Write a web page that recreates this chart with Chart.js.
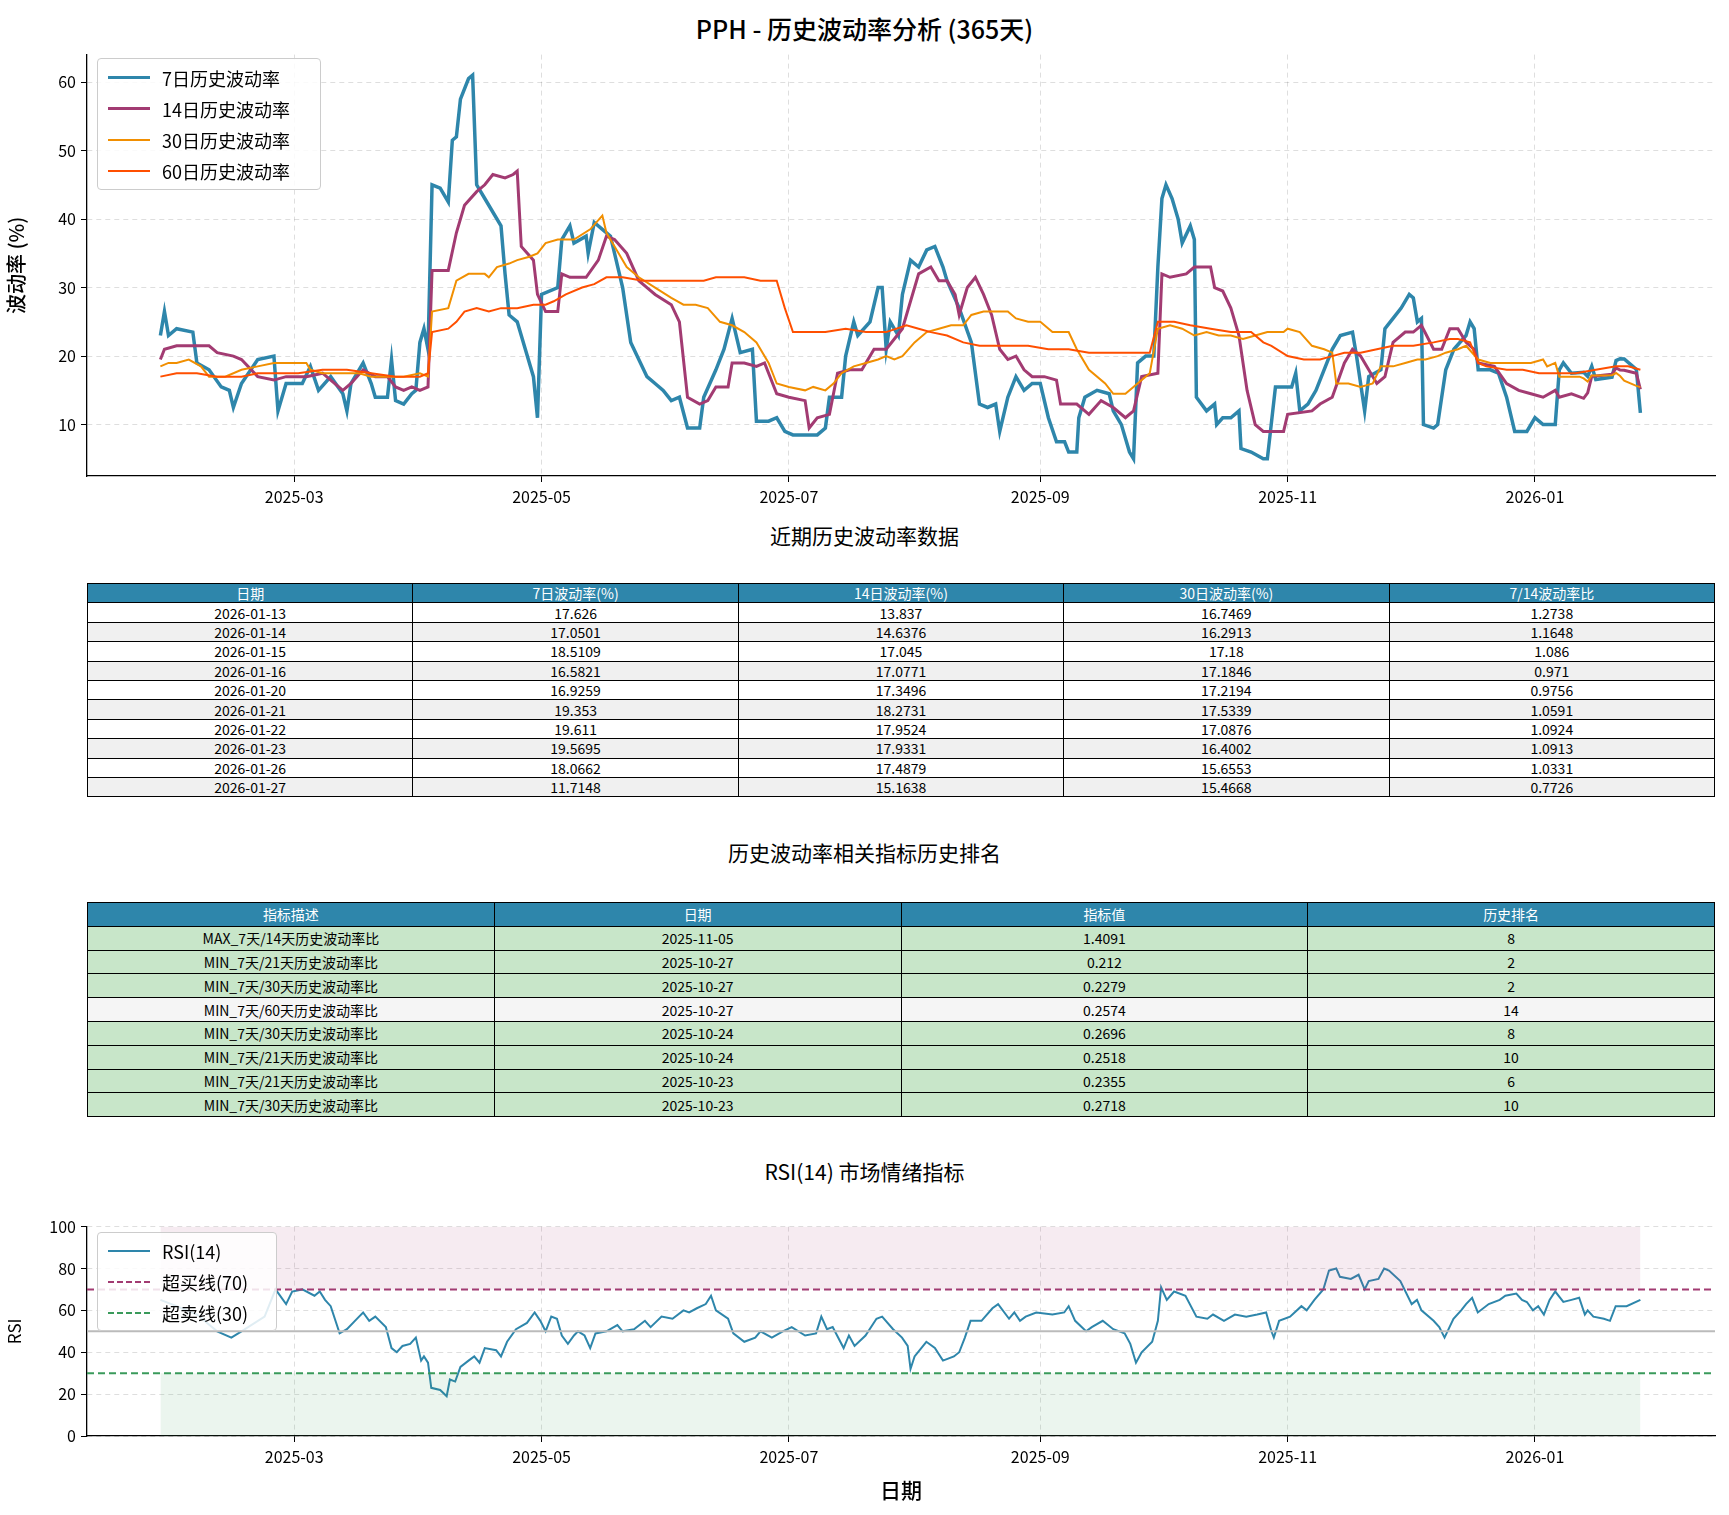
<!DOCTYPE html>
<html><head><meta charset="utf-8">
<script src="https://cdn.jsdelivr.net/npm/chart.js@4"></script>
<style>
body{margin:0;width:1729px;height:1515px;background:#fff;position:relative;font-family:"Noto Sans CJK SC","DejaVu Sans",sans-serif;overflow:hidden}
.t{position:absolute;left:0;width:1729px;text-align:center;color:#000}
canvas{position:absolute;left:0}
table{position:absolute;left:87px;width:1628px;border-collapse:collapse;table-layout:fixed;font-size:14px}
td{border:1px solid #000;text-align:center;padding:0;line-height:1}
.lg{position:absolute;background:rgba(255,255,255,0.85);border:1px solid #ccc;border-radius:4px;font-size:18px}
.lg div{height:31px;display:flex;align-items:center}
.lg span{display:inline-block;width:42px;margin:0 12px 0 10px}
</style></head><body>
<div class="t" style="top:10px;font-size:25px;font-weight:500">PPH - 历史波动率分析 (365天)</div>
<canvas id="c1" width="1729" height="480" style="top:40px;width:1729px;height:480px"></canvas>
<div class="lg" style="left:97px;top:58px;width:222px;padding:3px 0">
 <div><span style="border-top:3.5px solid #2E86AB"></span>7日历史波动率</div>
 <div><span style="border-top:3px solid #A23B72"></span>14日历史波动率</div>
 <div><span style="border-top:2px solid #F18F01"></span>30日历史波动率</div>
 <div><span style="border-top:2px solid #FF4F00"></span>60日历史波动率</div>
</div>
<div class="t" style="top:520px;font-size:21px">近期历史波动率数据</div>
<table id="tb1" style="top:583px"></table>
<div class="t" style="top:837px;font-size:21px">历史波动率相关指标历史排名</div>
<table id="tb2" style="top:902px"></table>
<div class="t" style="top:1156px;font-size:21px">RSI(14) 市场情绪指标</div>
<canvas id="c2" width="1729" height="303" style="top:1212px;width:1729px;height:303px"></canvas>
<div class="lg" style="left:97px;top:1232px;width:178px;padding:2px 0">
 <div><span style="border-top:2px solid #2E86AB"></span>RSI(14)</div>
 <div><span style="border-top:2px dashed #A23B72"></span>超买线(70)</div>
 <div><span style="border-top:2px dashed #3A9A5B"></span>超卖线(30)</div>
</div>
<script>
// x values: days since 2025-01-01
const monthTicks=[59,120,181,243,304,365];
const monthLabels=['2025-03','2025-05','2025-07','2025-09','2025-11','2026-01'];
const vol7=[[26,23],[27,26.5],[28,23],[30,24],[34,23.5],[35,19],[38,18],[41,15.5],[43,15],[44,12.5],[46,16],[50,19.5],[54,20],[55,12],[57,16],[61,16],[63,18.5],[65,15],[68,17],[71,14.5],[72,12],[73,16],[76,19],[78,16],[79,14],[82,14],[83,19.5],[84,13.5],[86,13],[88,14.5],[89,15],[90,22],[91,24],[92,21],[93,45],[95,44.5],[97,42.5],[98,51.5],[99,52],[100,57.5],[102,60.5],[103,61],[104,45],[106,43],[110,39],[111,32],[112,26],[114,25],[116,21],[118,17],[119,11],[120,29],[124,30],[125,37],[127,39],[128,36.5],[131,37.5],[131.5,35],[133,39.5],[135,38.5],[137,37.5],[140,30],[142,22],[146,17],[148,16],[150,15],[152,13.5],[154,14],[156,9.5],[159,9.5],[160,14],[163,18],[165,21],[167,25.5],[169,20.5],[172,21],[173,10.5],[176,10.5],[178,11],[180,9],[182,8.5],[185,8.5],[188,8.5],[190,9.5],[191,14],[194,14],[195,20],[197,25],[198,23],[201,25],[203,30],[204,30],[205,21],[206,25],[208,23],[209,29],[211,34],[213,33],[215,35.5],[217,36],[219,33],[220,31],[223,27],[226,22],[228,13],[230,12.5],[232,13],[233,9],[235,14],[237,17],[239,15],[241,16],[243,16],[245,11],[247,7.5],[249,7.5],[250,6],[252,6],[252.5,11],[254,14],[257,15],[260,14.5],[261,12],[263,10],[265,6],[266,5],[267,19],[269,20],[271,20],[272,33],[273,43],[274,45],[275.5,43],[277,40],[278,36.5],[280,39],[281,37],[281.5,14],[284,12],[286,13],[286.5,10],[288,11],[290,11],[292,12],[292.5,6.5],[295,6],[298,5],[299,5],[301,15.5],[305,15.5],[306,17.5],[307,12],[309,13],[311,15],[315,21],[317,23],[320,23.5],[321,20],[323,12],[324,17],[327,18],[328,24],[330,25.5],[332,27],[334,29],[335,28.5],[336,25],[337,25.5],[337.5,10],[340,9.5],[341,10],[343,18],[345,21],[348,23],[349,25],[350,24],[351,18],[354,18],[356,17.5],[358,14],[360,9],[362,9],[363,9],[365,11],[366,10.5],[367,10],[370,10],[371,18],[372,19],[374,17.5],[377,17.63],[378,17.05],[379,18.51],[380,16.58],[384,16.93],[385,19.35],[386,19.61],[387,19.57],[390,18.07],[391,11.71]];
const vol14=[[26,19.5],[27,21],[30,21.5],[35,21.5],[38,21.5],[40,20.5],[44,20],[46,19.5],[50,17],[54,16.5],[57,17],[62,17],[66,17.5],[68,16.5],[71,15],[73,16],[76,18],[79,17],[82,17],[84,15.5],[86,15],[88,15.5],[90,15],[92,15.5],[93,32.5],[97,32.5],[99,38],[101,42],[104,44],[106,45],[108,46.5],[111,46],[113,46.5],[114,47],[115,36],[118,34],[119,29],[121,26.5],[124,26.5],[125,32],[127,31.5],[131,31.5],[134,34],[136,37.5],[138,37],[141,35],[144,31],[146,30],[148,29],[152,27.5],[154,25],[156,14],[159,13],[161,13.5],[163,15.5],[166,15.5],[167,19],[170,19],[173,18.5],[175,19],[178,14.5],[181,14],[185,13.5],[186,9.5],[188,11],[191,11.5],[193,17.5],[196,18],[199,18],[202,21],[205,21],[207,22.5],[209,24],[211,28],[213,32],[216,33],[218,31],[220,31],[222,29],[223,26],[225,30],[227,31.5],[229,29],[231,26],[233,21],[235,19.5],[237,20],[239,18],[241,17],[244,17],[247,16.5],[248,13],[252,13],[255,11.5],[258,13.5],[261,12.5],[264,11],[266,12],[268,17],[272,17.5],[273,32],[275,31.5],[279,32],[281,33],[285,33],[286,30],[288,29.5],[290,27],[292,23],[294,15],[296,10],[298,9],[301,9],[303,9],[304,11.5],[310,12],[312,13],[315,14],[318,19],[320,21],[322,20],[326,16],[328,17],[330,22],[333,23.5],[335,23.5],[337,24.5],[340,21],[342,21],[344,24],[346,24],[348,22],[350,21],[351,19],[355,18.5],[358,16],[361,15],[364,14.5],[367,14],[370,15],[371,14],[374,14.5],[377,13.84],[378,14.64],[379,17.05],[380,17.08],[384,17.35],[385,18.27],[386,17.95],[387,17.93],[390,17.49],[391,15.16]];
const vol30=[[26,18.5],[28,19],[30,19],[33,19.5],[36,18.5],[38,17],[42,17],[46,18],[50,18.5],[54,19],[57,19],[62,19],[63,18],[66,17.5],[70,17.5],[75,17.5],[78,17],[82,17],[86,17],[90,17.5],[92,17],[93,26.5],[97,27],[99,31],[102,32],[106,32],[107,31.5],[109,33],[112,33.5],[114,34],[117,34.5],[119,35],[121,36.5],[124,37],[128,37],[132,38.5],[135,40.5],[136,38],[139,35],[141,33],[144,31.5],[148,30],[152,28.5],[155,27.5],[158,27.5],[161,27],[164,25],[167,24.5],[170,23.5],[173,22],[176,19],[178,16],[181,15.5],[185,15],[187,15.5],[190,15],[192,16],[194,17.5],[197,18.5],[200,19],[203,19.5],[205,20],[207,19.5],[209,20],[212,22],[215,23.5],[218,24],[221,24.5],[224,24.5],[226,26],[229,26.5],[232,26.5],[235,26.5],[237,25.5],[240,25],[243,25],[246,23.5],[250,23.5],[252,21],[255,18],[259,16],[261,14.5],[264,14.5],[267,16],[270,17.5],[272,24],[275,24.5],[278,24],[281,23],[284,23.5],[287,23],[290,23],[293,22.5],[296,23],[299,23.5],[303,23.5],[304,24],[307,23.5],[310,21.5],[313,21],[315,20.5],[316,16],[319,16],[322,15.5],[325,16],[327,18.5],[330,18.5],[333,19],[336,19.5],[338,19.5],[341,20],[343,20.5],[346,21],[348,21.5],[351,19.5],[354,19],[358,19],[361,19],[364,19],[367,19.5],[368,18.5],[370,19],[371,17],[374,17],[376,17],[377,16.75],[378,16.29],[379,17.18],[380,17.18],[384,17.22],[385,17.53],[386,17.09],[387,16.4],[390,15.66],[391,15.47]];
const vol60=[[26,17],[30,17.5],[35,17.5],[40,17],[46,17],[50,17.5],[55,17.5],[60,17.5],[66,18],[72,18],[78,17.5],[84,17],[90,17],[92,17.5],[93,23.5],[97,24],[99,25],[101,26.5],[104,27],[107,26.5],[110,27],[114,27],[118,27.5],[121,27.5],[123,28],[126,29],[130,30],[133,30.5],[136,31.5],[140,31.5],[145,31],[150,31],[155,31],[160,31],[163,31.5],[166,31.5],[170,31.5],[174,31],[178,31],[180,27],[182,23.5],[185,23.5],[190,23.5],[195,24],[200,23.5],[205,23.5],[210,24.5],[213,24],[216,23.5],[220,23],[224,22],[228,21.5],[235,21.5],[240,21.5],[245,21],[250,21],[255,20.5],[260,20.5],[265,20.5],[270,20.5],[272,25],[276,25],[280,24.5],[285,24],[290,23.5],[295,23.5],[298,22],[300,21.5],[304,20],[308,19.5],[312,19.5],[315,20],[318,20.5],[322,20.5],[326,21],[330,21.5],[335,21.5],[340,22],[344,22.5],[346,22.5],[349,22],[351,19],[353,18.5],[358,18],[362,18],[366,17.5],[370,17.5],[375,17.5],[380,18],[385,18.5],[388,18.5],[391,18]];
const rsi14=[[26,65],[30,62],[35,58],[40,50],[43.5,47],[46,50],[51.7,57],[54.4,70],[57,63],[58.5,69],[61,70],[64,67],[65.3,69],[66.6,65],[68,62],[70.2,49],[72,51],[75,57],[76,59],[77.5,55],[79,57],[81.6,52],[83,42],[84.3,40],[85.7,43],[87.6,44],[89,47],[90.3,36],[91,38],[92,35],[92.8,23],[95,22],[96.6,19],[97.4,27],[98.7,26],[100,33],[102,36],[103.4,38],[104.7,35],[106,42],[108.8,41],[110,38],[111.5,45],[113.7,51],[116.4,54],[118.3,59],[119.7,55],[121,50],[122.4,57],[123.8,56],[125,48],[126.5,44],[128,48],[129,50],[130.6,48],[132,42],[133.3,49],[136,50],[138.7,53],[140,50],[142.8,51],[145.5,55],[146.9,52],[149.6,57],[152.3,56],[155,60],[156.4,59],[158.3,61],[160.5,63],[161.8,67],[163,60],[166,56],[167.3,49],[170,45],[172.7,47],[174,50],[176.8,47],[179.5,50],[181.7,52],[185,48],[187.7,49],[189,57],[190.4,51],[191.8,52],[194.5,42],[195.8,48],[197.2,43],[199.9,48],[202.6,56],[204,57],[206.7,51],[208.9,47],[210.3,43],[211,32],[212,38],[214.9,45],[217,42],[219,36],[221.7,38],[223,40],[224.4,47],[225.8,55],[228.5,55],[231.2,61],[232.6,63],[235.3,56],[236.6,59],[238,55],[239.4,57],[242,59],[246,58],[248.9,59],[250,62],[251.6,55],[254.3,50],[255.7,52],[258.4,55],[261,51],[263.8,49],[265.2,44],[266.6,35],[268,40],[270.6,45],[272,55],[272.8,71],[274.2,65],[276,69],[278.8,67],[281.5,57],[284.2,56],[285.6,58],[288.3,55],[291,58],[293.8,57],[296.5,58],[298.7,59],[300,50],[300.6,47],[301.9,55],[304.6,57],[307.4,62],[308.7,60],[310.6,65],[312.8,70],[314.2,79],[316,80],[316.9,76],[319.6,75],[321.5,77],[323,70],[324,74],[326.4,75],[327.8,80],[329,79],[331.8,74],[334.6,63],[335.9,65],[337,60],[340,55],[341.4,52],[342.7,47],[344.9,56],[346.8,60],[348,63],[349.5,66],[350.9,59],[353.6,63],[356.3,65],[357.7,67],[360.4,68],[361.8,65],[363,64],[364.5,60],[365.8,62],[367.2,58],[368.6,65],[370,69],[372,64],[374,65],[375.9,66],[377.3,58],[378,60],[379.4,57],[382,56],[383.5,55],[384.9,62],[387.6,62],[391,65]];
const tbl1Head=['日期','7日波动率(%)','14日波动率(%)','30日波动率(%)','7/14波动率比'];
const tbl1Dates=['2026-01-13','2026-01-14','2026-01-15','2026-01-16','2026-01-20','2026-01-21','2026-01-22','2026-01-23','2026-01-26','2026-01-27'];
const tbl1V7=['17.626','17.0501','18.5109','16.5821','16.9259','19.353','19.611','19.5695','18.0662','11.7148'];
const tbl1V14=['13.837','14.6376','17.045','17.0771','17.3496','18.2731','17.9524','17.9331','17.4879','15.1638'];
const tbl1V30=['16.7469','16.2913','17.18','17.1846','17.2194','17.5339','17.0876','16.4002','15.6553','15.4668'];
const tbl1Ratio=['1.2738','1.1648','1.086','0.971','0.9756','1.0591','1.0924','1.0913','1.0331','0.7726'];
const tbl2Head=['指标描述','日期','指标值','历史排名'];
const tbl2Desc=['MAX_7天/14天历史波动率比','MIN_7天/21天历史波动率比','MIN_7天/30天历史波动率比','MIN_7天/60天历史波动率比','MIN_7天/30天历史波动率比','MIN_7天/21天历史波动率比','MIN_7天/21天历史波动率比','MIN_7天/30天历史波动率比'];
const tbl2Dates=['2025-11-05','2025-10-27','2025-10-27','2025-10-27','2025-10-24','2025-10-24','2025-10-23','2025-10-23'];
const tbl2Vals=['1.4091','0.212','0.2279','0.2574','0.2696','0.2518','0.2355','0.2718'];
const tbl2Rank=['8','2','2','14','8','10','6','10'];

function mk(tb,head,cols,rowH,bgFn){
  let h='<tr>'+head.map(x=>`<td style="background:#2E86AB;color:#fff;height:${rowH}px">${x}</td>`).join('')+'</tr>';
  for(let i=0;i<cols[0].length;i++){h+='<tr>'+cols.map(c=>`<td style="background:${bgFn(i)};height:${rowH}px">${c[i]}</td>`).join('')+'</tr>';}
  document.getElementById(tb).innerHTML=h;
}
mk('tb1',tbl1Head,[tbl1Dates,tbl1V7,tbl1V14,tbl1V30,tbl1Ratio],18.4,i=>i%2?'#f0f0f0':'#fff');
mk('tb2',tbl2Head,[tbl2Desc,tbl2Dates,tbl2Vals,tbl2Rank],22.8,i=>tbl2Rank[i]==='14'?'#f5f5f5':'#c8e6c9');

const FONT="'Noto Sans CJK SC','DejaVu Sans',sans-serif";
Chart.defaults.font.family=FONT;
Chart.defaults.color='#000';
const pts=a=>a.map(p=>({x:p[0],y:p[1]}));
const grid={color:'rgba(0,0,0,0.13)',drawTicks:true,tickLength:6,tickColor:'#000'};
const border={color:'#000',width:1.3,dash:[5,4]};
const xScale=(h,title)=>({type:'linear',min:7.9,max:409.4,
  afterBuildTicks:s=>{s.ticks=monthTicks.map(v=>({value:v}));},
  afterFit:s=>{s.height=h;},
  ticks:{callback:(v)=>monthLabels[monthTicks.indexOf(v)]||'',font:{size:16},maxRotation:0,padding:5},
  grid:grid,border:border,
  title:title});
const line=(d,c,w,extra)=>Object.assign({data:pts(d),borderColor:c,borderWidth:w,pointRadius:0,tension:0,fill:false},extra||{});

new Chart(document.getElementById('c1'),{type:'line',
  data:{datasets:[line(vol60,'#FF4F00',2),line(vol30,'#F18F01',2),line(vol14,'#A23B72',3),line(vol7,'#2E86AB',3.5)]},
  options:{animation:false,responsive:false,layout:{padding:{top:10,right:14}},
    plugins:{legend:{display:false},tooltip:{enabled:false}},
    scales:{x:xScale(44),
      y:{min:2.5,max:64,afterBuildTicks:s=>{s.ticks=[10,20,30,40,50,60].map(v=>({value:v}));},afterFit:s=>{s.width=87;},
        ticks:{font:{size:16},padding:5},grid:grid,border:border,
        title:{display:true,text:'波动率 (%)',font:{size:20,weight:'500'},padding:{bottom:0}}}}}});

const L=26,R=391;
new Chart(document.getElementById('c2'),{type:'line',
  data:{datasets:[
    line([[L,100],[R,100]],'rgba(0,0,0,0)',0,{fill:{value:70},backgroundColor:'rgba(162,59,114,0.1)'}),
    line([[L,30],[R,30]],'rgba(0,0,0,0)',0,{fill:'origin',backgroundColor:'rgba(58,154,91,0.1)'}),
    line([[7.9,50],[409.4,50]],'#bbbbbb',2),
    line([[7.9,70],[409.4,70]],'#A23B72',2,{borderDash:[7,4]}),
    line([[7.9,30],[409.4,30]],'#3A9A5B',2,{borderDash:[7,4]}),
    line(rsi14,'#2E86AB',2)]},
  options:{animation:false,responsive:false,layout:{padding:{top:10,right:14}},
    plugins:{legend:{display:false},tooltip:{enabled:false}},
    scales:{x:xScale(79,{display:true,text:'日期',font:{size:21,weight:'500'},padding:{top:4,bottom:12}}),
      y:{min:0,max:100,afterBuildTicks:s=>{s.ticks=[0,20,40,60,80,100].map(v=>({value:v}));},afterFit:s=>{s.width=87;},
        ticks:{font:{size:16},padding:5},grid:grid,border:border,
        title:{display:true,text:'RSI',font:{size:17},padding:{bottom:0}}}}}});
</script></body></html>
